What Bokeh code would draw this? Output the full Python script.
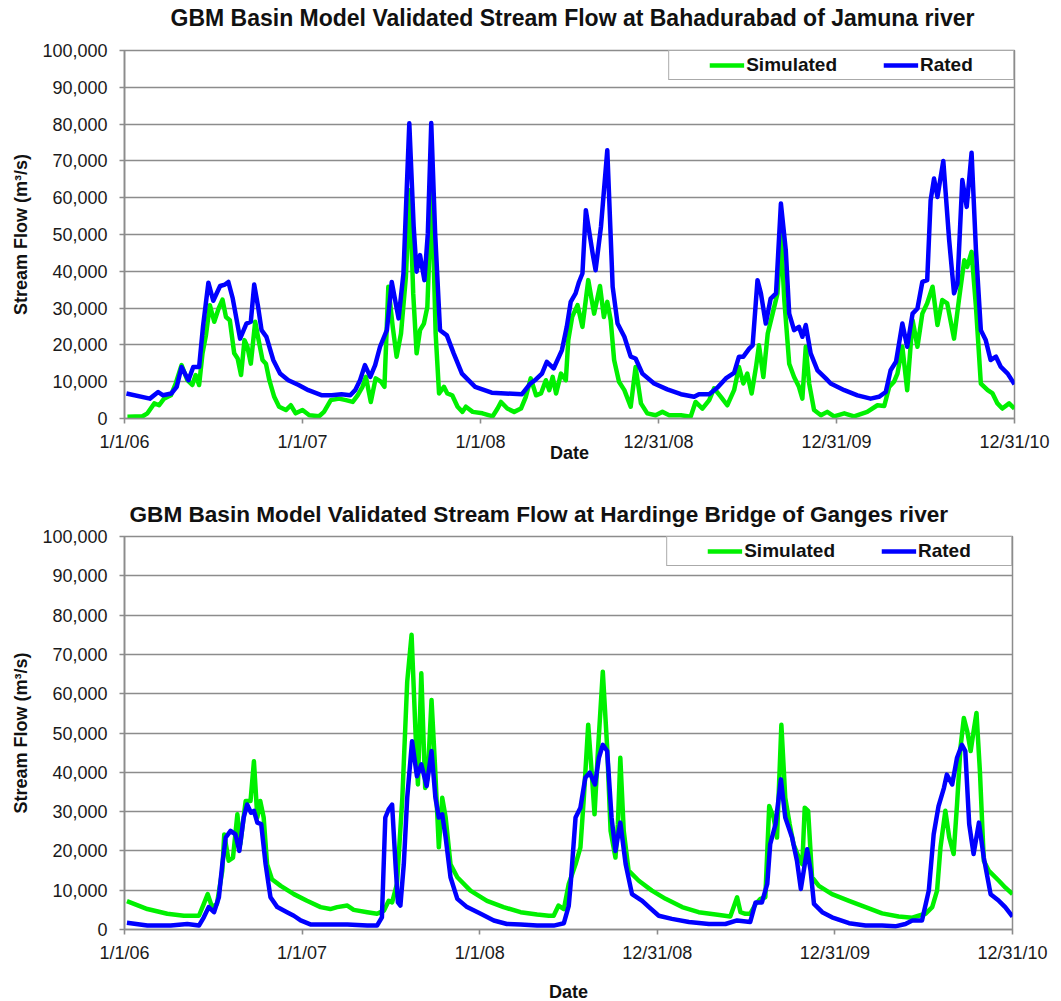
from bokeh.plotting import figure
from bokeh.layouts import column
from bokeh.models import (FixedTicker, NumeralTickFormatter, Legend, LegendItem, Range1d, Title)
from bokeh.embed import file_html
from bokeh.resources import INLINE

# ---------------- data ----------------
TICK_DAYS = [0, 365, 730, 1095, 1460, 1825]   # days since 1/1/06
TICK_LABELS = ["1/1/06", "1/1/07", "1/1/08", "12/31/08", "12/31/09", "12/31/10"]
Y_TICKS = [0, 10000, 20000, 30000, 40000, 50000, 60000, 70000, 80000, 90000, 100000]

TOP_TITLE = "GBM Basin Model Validated Stream Flow at Bahadurabad of Jamuna river"
BOTTOM_TITLE = "GBM Basin Model Validated Stream Flow at Hardinge Bridge of Ganges river"
SERIES_NAMES = ["Simulated", "Rated"]
X_TITLE = "Date"
Y_TITLE = "Stream Flow (m\u00b3/s)"

# Jamuna (Bahadurabad) - Rated
jam_rated_days = [4, 52, 69, 79, 96, 107, 117, 131, 141, 153, 161, 172, 182, 196, 206, 213, 222, 237, 250, 259,
                  266, 274, 281, 291, 305, 319, 336, 357, 377, 405, 425, 445, 463, 473, 483, 493, 504, 514, 524, 538,
                  548, 562, 572, 584, 593, 599, 606, 615, 622, 629, 637, 647, 661, 675, 692, 719, 753, 781, 815, 832,
                  842, 856, 866, 880, 897, 907, 915, 925, 932, 939, 946, 960, 966, 977, 990, 1001, 1011, 1025, 1038, 1048,
                  1062, 1086, 1113, 1141, 1168, 1178, 1199, 1216, 1233, 1250, 1260, 1269, 1281, 1288, 1298, 1305, 1315,
                  1325, 1336, 1346, 1356, 1363, 1373, 1383, 1390, 1397, 1407, 1421, 1438, 1448, 1476, 1503, 1530, 1547,
                  1561, 1571, 1582, 1595, 1605, 1616, 1626, 1636, 1646, 1653, 1660, 1667, 1679, 1691, 1701, 1708, 1718,
                  1727, 1737, 1746, 1756, 1766, 1776, 1787, 1797, 1811, 1825]
jam_rated_flow = [6800, 5400, 7200, 6300, 6800, 8600, 14000, 10400, 14000, 14000, 25000, 36900, 32000, 36000, 36400,
                  37100, 32600, 21700, 25800, 26300, 36400, 30300, 24000, 22200, 15900, 12200, 10400, 9100, 7700, 6300,
                  6300, 6600, 6300, 7700, 10400, 14500, 11300, 14500, 19500, 24000, 37100, 27200, 39400, 80200, 52100,
                  39900, 44400, 37600, 50300, 80300, 50300, 24000, 22600, 17700, 12200, 8600, 7000, 6800, 6600, 9500,
                  10400, 12200, 15400, 13600, 18600, 25000, 31700, 34000, 37100, 39400, 56600, 44800, 40300, 52100,
                  72900, 35800, 25800, 22200, 16800, 16300, 12200, 9500, 7900, 6600, 5900, 6600, 6600, 8400, 10900,
                  12400, 16800, 16800, 19000, 19900, 37600, 34000, 25800, 32600, 34000, 58400, 45700, 28500, 24000,
                  24900, 22200, 25400, 17700, 13100, 10900, 9500, 7700, 6300, 5400, 5900, 7200, 13100, 15400, 25800,
                  19500, 28500, 29900, 37100, 37600, 59300, 65200, 60200, 70000, 48500, 34000, 36700, 64800, 57500,
                  72200, 45700, 24000, 21300, 15900, 16800, 14000, 12200, 9300]

# Jamuna (Bahadurabad) - Simulated
jam_sim_days = [6, 37, 47, 61, 71, 81, 95, 105, 117, 129, 139, 146, 153, 160, 167, 175, 184, 193, 201, 208, 216, 225,
                232, 239, 246, 252, 259, 268, 275, 283, 290, 297, 307, 317, 331, 341, 351, 365, 379, 399, 409, 423,
                440, 454, 468, 478, 488, 495, 505, 515, 526, 533, 541, 550, 558, 567, 577, 585, 592, 599, 606, 614,
                621, 630, 638, 645, 655, 662, 672, 683, 693, 700, 714, 734, 755, 765, 772, 785, 799, 813, 823, 833,
                844, 854, 864, 871, 878, 885, 895, 905, 910, 918, 929, 939, 951, 963, 975, 983, 990, 997, 1004, 1014,
                1025, 1038, 1048, 1059, 1072, 1089, 1103, 1117, 1141, 1161, 1171, 1185, 1199, 1209, 1223, 1236, 1250,
                1260, 1269, 1277, 1286, 1295, 1301, 1310, 1319, 1329, 1339, 1346, 1353, 1363, 1373, 1383, 1390, 1397,
                1404, 1414, 1428, 1441, 1455, 1476, 1496, 1523, 1544, 1558, 1568, 1578, 1585, 1595, 1605, 1616, 1626,
                1636, 1646, 1657, 1667, 1677, 1687, 1701, 1711, 1722, 1728, 1737, 1746, 1756, 1770, 1780, 1790, 1800,
                1814, 1825]
jam_sim_flow = [500, 600, 1400, 4100, 3600, 5400, 6300, 9500, 14500, 10400, 9100, 11800, 9100, 17700, 22600, 30800,
                26300, 29900, 32300, 27600, 26700, 17700, 16300, 11800, 21300, 19500, 14900, 26300, 21300, 15900,
                14900, 10400, 5900, 3200, 2300, 3600, 1400, 2300, 900, 600, 1800, 5000, 5400, 5000, 4500, 6300, 8600,
                11300, 4500, 10900, 10000, 8600, 35800, 24900, 16800, 23100, 38500, 62000, 34000, 17700, 24000, 25800,
                30300, 63000, 23100, 6800, 8600, 6800, 6300, 3200, 1800, 3200, 1800, 1400, 600, 2700, 4500, 2700,
                1800, 2700, 5900, 10900, 6300, 6800, 10400, 7700, 11300, 6800, 12200, 10400, 21300, 27600, 30800,
                24900, 37600, 28500, 36000, 27600, 31700, 26700, 15900, 10000, 7700, 3200, 14000, 4100, 1400, 900,
                1800, 900, 900, 500, 4500, 2700, 5000, 8200, 5900, 3600, 7700, 14000, 9500, 12200, 6800, 14000, 19900,
                11300, 23100, 28500, 34000, 50000, 32200, 14900, 11300, 8600, 5400, 19500, 9500, 2300, 900, 1800, 600,
                1400, 600, 1800, 3600, 3400, 8600, 10000, 12200, 19500, 7700, 26700, 19500, 28500, 31300, 35800,
                25400, 32200, 31300, 21700, 32200, 43000, 41200, 45300, 30300, 9500, 7700, 6800, 4100, 2700, 4100, 2700]

# Ganges (Hardinge Bridge) - Simulated
gan_sim_days = [5, 47, 88, 122, 153, 163, 171, 180, 190, 201, 205, 214, 223, 232, 238, 249, 259, 266, 273, 279, 286,
                293, 303, 321, 348, 375, 403, 423, 437, 458, 471, 499, 519, 533, 543, 550, 560, 571, 581, 590, 598,
                603, 610, 618, 623, 631, 638, 646, 653, 660, 670, 684, 711, 745, 779, 814, 848, 872, 882, 892, 903,
                913, 927, 937, 944, 953, 960, 966, 973, 983, 992, 999, 1009, 1014, 1019, 1026, 1036, 1057, 1084, 1112,
                1146, 1180, 1215, 1245, 1252, 1259, 1266, 1276, 1286, 1297, 1307, 1317, 1325, 1334, 1341, 1350, 1358,
                1367, 1375, 1386, 1393, 1398, 1405, 1413, 1427, 1454, 1489, 1523, 1557, 1591, 1619, 1632, 1646, 1660,
                1670, 1677, 1687, 1695, 1704, 1711, 1718, 1725, 1732, 1739, 1745, 1751, 1758, 1766, 1776, 1797, 1810,
                1825]
gan_sim_flow = [7200, 5200, 4000, 3500, 3500, 6500, 9000, 5700, 6500, 15000, 24200, 17500, 18300, 29300, 21700, 32700,
                32700, 42800, 28500, 32700, 28500, 16600, 12800, 11100, 9000, 7300, 5700, 5200, 5700, 6100, 5000,
                4400, 4000, 4800, 7300, 6900, 11600, 33500, 63000, 75000, 50400, 36900, 65200, 36000, 38600, 58400,
                42000, 20900, 33500, 28500, 16600, 13300, 9900, 7300, 5700, 4400, 3800, 3500, 3500, 6100, 5200, 11600,
                16600, 20900, 33500, 52100, 40300, 29300, 45400, 65600, 46200, 25100, 18300, 26800, 43700, 25100,
                15000, 12400, 9900, 7800, 5700, 4400, 3800, 3300, 5700, 8200, 4400, 4000, 4000, 6500, 7800, 8200,
                31400, 28500, 23400, 52100, 33500, 26800, 21700, 18300, 16600, 31000, 30200, 13300, 11100, 9000, 7300,
                5700, 4100, 3300, 3000, 3500, 4000, 5700, 9900, 20900, 30200, 23400, 19200, 31800, 46200, 53800, 50400,
                45400, 50400, 55100, 40300, 17500, 15000, 12400, 10700, 9000]

# Ganges (Hardinge Bridge) - Rated
gan_rated_days = [5, 47, 95, 129, 153, 163, 173, 184, 194, 201, 208, 218, 228, 236, 245, 252, 260, 266, 273, 281, 290,
                  300, 314, 334, 348, 362, 382, 416, 458, 499, 519, 529, 536, 543, 550, 557, 562, 567, 574, 581, 591,
                  601, 610, 621, 631, 639, 646, 653, 660, 670, 684, 704, 732, 759, 786, 814, 848, 882, 903, 913, 917,
                  927, 937, 947, 956, 967, 975, 983, 992, 1001, 1009, 1019, 1030, 1043, 1064, 1078, 1098, 1125, 1160,
                  1201, 1235, 1259, 1286, 1297, 1310, 1321, 1327, 1338, 1349, 1358, 1372, 1382, 1390, 1396, 1403, 1410,
                  1417, 1434, 1454, 1489, 1523, 1557, 1584, 1605, 1619, 1639, 1653, 1663, 1673, 1684, 1690, 1701, 1711,
                  1721, 1728, 1736, 1745, 1756, 1766, 1780, 1797, 1810, 1825]
gan_rated_flow = [1700, 1000, 1000, 1400, 1000, 3100, 5700, 4400, 8200, 16600, 23400, 25100, 24200, 20000, 28500,
                  31800, 29700, 30200, 27200, 26800, 16600, 8200, 5700, 4400, 3500, 2300, 1300, 1300, 1300, 1000, 1000,
                  3100, 28500, 30600, 31800, 16600, 6900, 6100, 16600, 33500, 47900, 39000, 42000, 36500, 45400, 33500,
                  28500, 29300, 23400, 13300, 7800, 5700, 4000, 2300, 1400, 1300, 1000, 1000, 1600, 6000, 11600, 28500,
                  31000, 38600, 39900, 36900, 43700, 47000, 45400, 28500, 20000, 27200, 16600, 9000, 7300, 5700, 3500,
                  2700, 1900, 1400, 1400, 2300, 1900, 6900, 6900, 11600, 21700, 26800, 38200, 28500, 23400, 17500,
                  10300, 15000, 20400, 15000, 6500, 4400, 3100, 1600, 1000, 1000, 800, 1400, 2300, 2300, 9900, 24200,
                  31400, 36000, 39400, 36900, 43700, 47000, 45400, 26800, 19200, 27200, 18300, 9000, 7300, 5700, 3300]

# ---------------- styling ----------------
FONT = "Liberation Sans"
GRID = "#8c8c8c"
SIM_COLOR = "#00f000"
RATED_COLOR = "#0000ff"


def style_title(t, size, offset, standoff, valign):
    t.text_font = FONT
    t.text_font_size = size
    t.text_font_style = "bold"
    t.text_color = "#111111"
    t.align = "left"
    t.offset = offset
    t.standoff = standoff
    t.vertical_align = valign


def make_chart(title, sim_d, sim_v, rat_d, rat_v, frame_w, frame_h, b_left, b_top, b_bottom,
               title_size, title_offset, title_standoff, spacer, xlabel_standoff):
    p = figure(frame_width=frame_w, frame_height=frame_h,
               min_border_left=b_left, min_border_right=40,
               min_border_top=b_top, min_border_bottom=b_bottom,
               x_range=Range1d(0, 1825), y_range=Range1d(0, 100000),
               output_backend="svg", toolbar_location=None)
    p.title.text = title
    if spacer:
        style_title(p.title, title_size, title_offset, title_standoff, "top")
        # thin blank panel between frame and title, lifting the title upward
        gap = Title(text=" ", text_font_size="10px", standoff=5)
        p.add_layout(gap, "above")
    else:
        style_title(p.title, title_size, title_offset, title_standoff, "bottom")

    p.outline_line_color = GRID
    p.outline_line_width = 1.5
    p.background_fill_color = "white"
    p.border_fill_color = "white"

    p.xgrid.visible = False
    p.ygrid.ticker = FixedTicker(ticks=Y_TICKS)
    p.ygrid.grid_line_color = GRID
    p.ygrid.grid_line_width = 1.6

    p.xaxis.ticker = FixedTicker(ticks=TICK_DAYS)
    p.xaxis.major_label_overrides = {d: lab for d, lab in zip(TICK_DAYS, TICK_LABELS)}
    p.yaxis.ticker = FixedTicker(ticks=Y_TICKS)
    p.yaxis.formatter = NumeralTickFormatter(format="0,0")
    for ax in (p.xaxis[0], p.yaxis[0]):
        ax.axis_line_color = GRID
        ax.axis_line_width = 1.6
        ax.major_tick_line_color = GRID
        ax.major_tick_line_width = 1.6
        ax.major_tick_out = 5
        ax.major_tick_in = 0
        ax.minor_tick_line_color = None
        ax.major_label_text_font = FONT
        ax.major_label_text_font_size = "18px"
        ax.major_label_text_color = "#1a1a1a"
        ax.axis_label_text_font = FONT
        ax.axis_label_text_font_size = "18px"
        ax.axis_label_text_font_style = "bold"
        ax.axis_label_text_color = "#111111"
    p.yaxis.major_label_standoff = 12
    p.xaxis.major_label_standoff = 8
    p.xaxis.axis_label = X_TITLE
    p.xaxis.axis_label_standoff = xlabel_standoff
    p.yaxis.axis_label = Y_TITLE
    p.yaxis.axis_label_standoff = 8

    r_sim = p.line(sim_d, sim_v, line_color=SIM_COLOR, line_width=4.5, line_join="round")
    r_rat = p.line(rat_d, rat_v, line_color=RATED_COLOR, line_width=4.5, line_join="round")

    kw = dict(items=[LegendItem(label=SERIES_NAMES[0], renderers=[r_sim]),
                     LegendItem(label=SERIES_NAMES[1], renderers=[r_rat])],
              orientation="horizontal", location="top_right", margin=0, padding=3,
              spacing=46, glyph_width=35, glyph_height=20, label_standoff=2,
              label_width=90, label_height=20,
              label_text_font=FONT, label_text_font_style="bold", label_text_font_size="19px",
              label_text_color="#111111", border_line_color="#555555", border_line_width=1.5,
              background_fill_color="white", background_fill_alpha=1.0)
    if "title_location" in Legend.properties():
        kw.update(title=" ", title_location="left", title_standoff=16,
                  title_text_font_size="18px")
    p.add_layout(Legend(**kw))
    return p


p1 = make_chart(TOP_TITLE, jam_sim_days, jam_sim_flow, jam_rated_days, jam_rated_flow,
                frame_w=890, frame_h=368, b_left=122, b_top=50, b_bottom=60,
                title_size="23px", title_offset=46, title_standoff=0, spacer=True,
                xlabel_standoff=-12)
p2 = make_chart(BOTTOM_TITLE, gan_sim_days, gan_sim_flow, gan_rated_days, gan_rated_flow,
                frame_w=888, frame_h=393, b_left=124, b_top=58, b_bottom=71,
                title_size="22.6px", title_offset=5, title_standoff=20, spacer=False,
                xlabel_standoff=16)

layout = column(p1, p2, spacing=0)
open("out.html", "w").write(file_html(layout, INLINE))
